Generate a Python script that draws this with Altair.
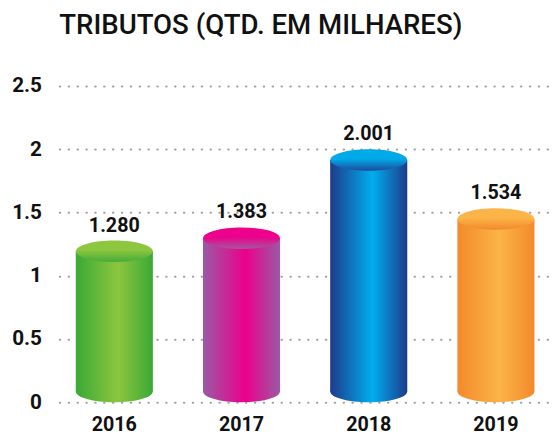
import altair as alt
import pandas as pd

years = ["2016", "2017", "2018", "2019"]
values = [1.280, 1.383, 2.001, 1.534]
labels = ["1.280", "1.383", "2.001", "1.534"]
y_ticks = [0, 0.5, 1, 1.5, 2, 2.5]

edge_col = ["#3aa936", "#9a5aa4", "#1d3b8b", "#f38a2b"]
mid_col = ["#8dc63f", "#ec008c", "#00aeef", "#fbb447"]
cap_top = ["#8dc63f", "#ec008c", "#00a9e8", "#fbb447"]
cap_bot = ["#45ab38", "#a3579f", "#1e4c9b", "#f3882c"]

df = pd.DataFrame({"year": years, "value": values, "label": labels, "zero": [0] * 4})

ELL = "M-1,0 A1,0.28 0 1,0 1,0 A1,0.28 0 1,0 -1,0 Z"
CAP = 11
SIZE = 78 * 78

xscale = alt.Scale(paddingInner=0.394, paddingOuter=0.13, round=False)
xenc = alt.X("year:N", sort=years, title=None, scale=xscale,
             axis=alt.Axis(labelAngle=0, labelFont="Roboto", labelFontSize=20,
                           labelFontWeight="bold", labelColor="#111", labelPadding=13,
                           ticks=False, domain=False, grid=False))
yscale = alt.Scale(domain=[0, 2.5], nice=False)

base = alt.Chart(df)

axes_layer = base.mark_point(opacity=0).encode(
    x=xenc,
    y=alt.Y("value:Q", scale=yscale, title=None,
            axis=alt.Axis(values=y_ticks, format="~g", labelFont="Roboto",
                          labelFontSize=21, labelFontWeight="bold", labelColor="#111",
                          labelPadding=18, ticks=False, domain=False,
                          gridColor="#a0a0a0", gridWidth=2, gridDash=[0.5, 8.5],
                          gridCap="round")),
)

layers = [axes_layer]
for i, yr in enumerate(years):
    grad_h = alt.Gradient(gradient="linear", x1=0, x2=1, y1=0, y2=0,
                          stops=[alt.GradientStop(offset=0, color=edge_col[i]),
                                 alt.GradientStop(offset=0.55, color=mid_col[i]),
                                 alt.GradientStop(offset=1, color=edge_col[i])])
    grad_v = alt.Gradient(gradient="linear", x1=0, x2=0, y1=0, y2=1,
                          stops=[alt.GradientStop(offset=0, color=cap_top[i]),
                                 alt.GradientStop(offset=0.45, color=cap_top[i]),
                                 alt.GradientStop(offset=1, color=cap_bot[i])])
    sub = base.transform_filter(alt.datum.year == yr)
    bottom = sub.mark_point(shape=ELL, size=SIZE, filled=True, fill=grad_h,
                            strokeWidth=0, opacity=1, yOffset=-CAP).encode(
        x=alt.X("year:N", sort=years), y=alt.Y("zero:Q", scale=yscale))
    body = sub.mark_bar(fill=grad_h, yOffset=CAP, y2Offset=-CAP).encode(
        x=alt.X("year:N", sort=years), y=alt.Y("value:Q", scale=yscale), y2="zero:Q")
    top = sub.mark_point(shape=ELL, size=SIZE, filled=True, fill=grad_v,
                         strokeWidth=0, opacity=1, yOffset=CAP).encode(
        x=alt.X("year:N", sort=years), y=alt.Y("value:Q", scale=yscale))
    layers += [bottom, body, top]

text = base.mark_text(dy=-5, baseline="bottom", font="Roboto", fontSize=20,
                      fontWeight="bold", color="#111").encode(
    x=alt.X("year:N", sort=years), y=alt.Y("value:Q", scale=yscale), text="label:N")
layers.append(text)

chart = alt.layer(*layers).properties(
    width=499, height=321,
    autosize=alt.AutoSizeParams(type="none"),
    padding={"left": 52, "top": 76, "right": 0, "bottom": 32},
    title=alt.Title("TRIBUTOS (QTD. EM MILHARES)", font="Roboto", fontSize=28,
                    fontWeight=500, color="#111", anchor="start", frame="group",
                    dx=0, offset=36),
).configure_view(stroke=None)

chart.save("out.html", embed_options={"renderer": "svg", "actions": False})
